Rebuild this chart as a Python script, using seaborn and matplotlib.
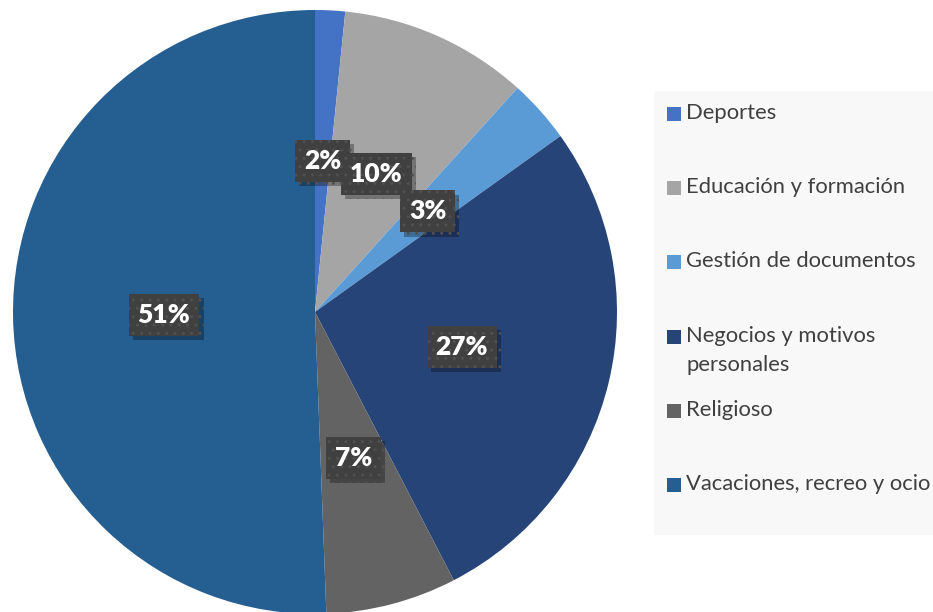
import matplotlib
matplotlib.use("Agg")
import matplotlib.pyplot as plt
import matplotlib.patheffects as pe
from matplotlib.patches import Rectangle
import seaborn as sns

categories = ["Deportes", "Educación y formación", "Gestión de documentos",
              "Negocios y motivos\npersonales", "Religioso", "Vacaciones, recreo y ocio"]
values = [1.6, 10.1, 3.4, 27.3, 7.0, 50.6]
colors = ["#4472C4", "#A5A5A5", "#5B9BD5", "#264478", "#636363", "#255E91"]

sns.set_theme(style="white")
plt.rcParams["font.family"] = ["Lato", "DejaVu Sans"]
plt.rcParams["hatch.linewidth"] = 1.0

W, H = 933, 612
fig = plt.figure(figsize=(W / 100, H / 100), dpi=100)
fig.patch.set_facecolor("white")

cx, cy, R = 315, 312, 302
ax = fig.add_axes([(cx - R) / W, (H - cy - R) / H, 2 * R / W, 2 * R / H])
palette = sns.color_palette(colors)

wedges, texts, autotexts = ax.pie(
    values, colors=palette, startangle=90, counterclock=False,
    autopct=lambda p: f"{p:.0f}%", pctdistance=0.5,
    wedgeprops=dict(linewidth=0, edgecolor="none"),
    textprops=dict(color="white", fontsize=19, fontweight="heavy"),
)
ax.set_xlim(-1, 1)
ax.set_ylim(-1, 1)
ax.set_aspect("equal")
ax.axis("off")

for t in autotexts:
    t.set_bbox(dict(boxstyle="square,pad=0.34", fc="#404040", ec="#505050",
                    lw=0, hatch=".."))
    t.get_bbox_patch().set_path_effects([
        pe.SimplePatchShadow(offset=(3, -3), alpha=0.3, shadow_rgbFace="black"),
        pe.Normal()])

# legend panel
lx0, lx1, ly0, ly1 = 654, 933, 91, 535
fig.patches.append(Rectangle((lx0 / W, (H - ly1) / H), (lx1 - lx0) / W, (ly1 - ly0) / H,
                             transform=fig.transFigure, fc="#F8F8F8", ec="none", zorder=0))
y0, step, line_h = 113, 74.2, 29
for i, (lab, col) in enumerate(zip(categories, palette)):
    y = y0 + i * step
    fig.patches.append(Rectangle((667 / W, (H - y - 8) / H), 14 / W, 14 / H,
                                 transform=fig.transFigure, fc=col, ec="none", zorder=2))
    for k, line in enumerate(lab.split("\n")):
        fig.text(686 / W, (H - y - k * line_h) / H, line, ha="left", va="center",
                 fontsize=15.8, color="#404040")

fig.savefig("out.png", dpi=100)
